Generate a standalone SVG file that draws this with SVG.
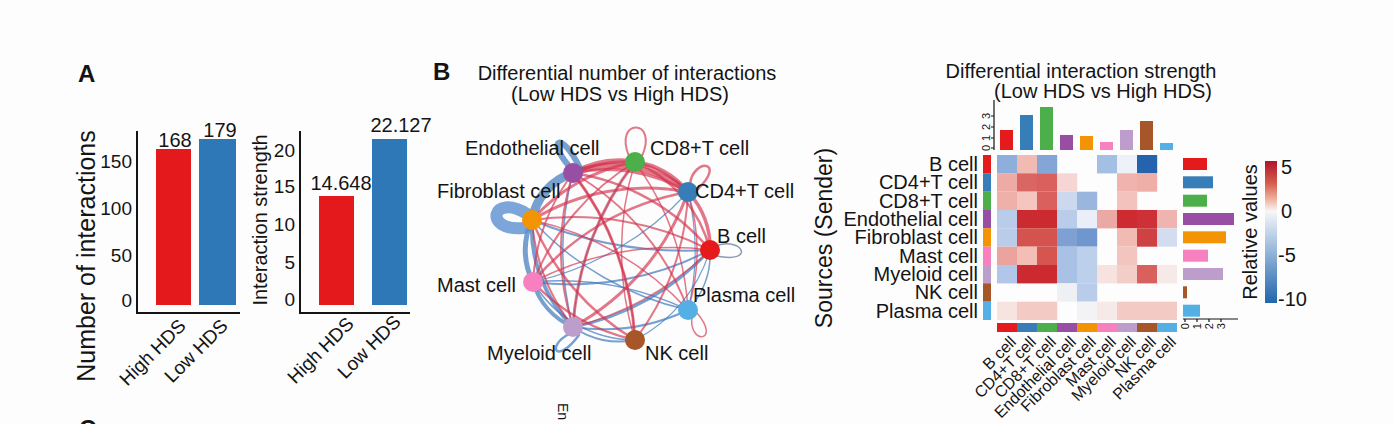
<svg xmlns="http://www.w3.org/2000/svg" width="1394" height="424" viewBox="0 0 1394 424">
<defs>
<style>
text{font-family:"Liberation Sans",Arial,sans-serif;fill:#141414}
.pl{font-weight:bold;font-size:24px}
.t20{font-size:20px}
.t19{font-size:19px}
.ax{stroke:#141414;stroke-width:2;fill:none}
.r{fill:none;stroke:#d3334d;stroke-opacity:.66;stroke-linecap:round}
.b{fill:none;stroke:#3d77bd;stroke-opacity:.7;stroke-linecap:round}
</style>
<linearGradient id="cb" x1="0" y1="0" x2="0" y2="1">
<stop offset="0" stop-color="#ae1529"/>
<stop offset="0.16" stop-color="#d6604d"/>
<stop offset="0.28" stop-color="#f2b9a9"/>
<stop offset="0.353" stop-color="#f7f7f7"/>
<stop offset="0.5" stop-color="#c3d5ea"/>
<stop offset="0.75" stop-color="#6f9ccb"/>
<stop offset="1" stop-color="#2166ac"/>
</linearGradient>
</defs>
<rect width="1394" height="424" fill="#fdfdfd"/>

<!-- Panel A -->
<g id="panelA">
<text class="pl" x="78" y="82">A</text>
<g id="chart-number">
<rect x="156" y="149" width="35" height="156" fill="#e3191c"/>
<rect x="199" y="139" width="37" height="166" fill="#2f78b7"/>
<path class="ax" d="M137 131 V313 H240"/>
<text class="t20" x="175" y="147" text-anchor="middle">168</text>
<text class="t20" x="220" y="137" text-anchor="middle">179</text>
<g class="t19" text-anchor="end">
<text x="132" y="168">150</text>
<text x="132" y="215">100</text>
<text x="132" y="262">50</text>
<text x="132" y="307">0</text>
</g>
<text x="0" y="0" font-size="25" text-anchor="middle" transform="translate(95 256) rotate(-90)">Number of interactions</text>
<text class="t19" text-anchor="end" transform="translate(187 327) rotate(-45)">High HDS</text>
<text class="t19" text-anchor="end" transform="translate(229 327) rotate(-45)">Low HDS</text>
</g>
<g id="chart-strength">
<rect x="319" y="196" width="35" height="109" fill="#e3191c"/>
<rect x="372" y="139" width="35" height="166" fill="#2f78b7"/>
<path class="ax" d="M300 131 V313 H410"/>
<text class="t20" x="341" y="190" text-anchor="middle">14.648</text>
<text class="t20" x="401" y="132" text-anchor="middle">22.127</text>
<g class="t19" text-anchor="end">
<text x="295" y="157">20</text>
<text x="295" y="193">15</text>
<text x="295" y="231">10</text>
<text x="295" y="269">5</text>
<text x="295" y="306">0</text>
</g>
<text x="0" y="0" font-size="20" text-anchor="middle" transform="translate(267 220) rotate(-90)">Interaction strength</text>
<text class="t19" text-anchor="end" transform="translate(355 325) rotate(-45)">High HDS</text>
<text class="t19" text-anchor="end" transform="translate(402 323) rotate(-45)">Low HDS</text>
</g>
<text class="pl" x="79" y="437">C</text>
</g>

<!-- Panel B: network -->
<g id="panelB">
<text class="pl" x="433" y="80">B</text>
<text class="t20" x="627" y="80" text-anchor="middle">Differential number of interactions</text>
<text class="t20" x="620" y="101" text-anchor="middle">(Low HDS vs High HDS)</text>
</g>

<g id="connectors">
<!-- blue -->
<path class="b" stroke-width="9" d="M573 173 A60 60 0 0 0 532 220"/>
<path class="b" stroke-width="5" d="M532 220 A70 70 0 0 0 533 282"/>
<path class="b" stroke-width="4" d="M532 220 A140 140 0 0 0 573 327"/>
<path class="b" stroke-width="4" d="M533 282 A70 70 0 0 0 573 327"/>
<path class="b" stroke-width="3" d="M573 327 A250 250 0 0 0 710 250"/>
<path class="b" stroke-width="2" d="M533 282 A300 300 0 0 0 710 250"/>
<path class="b" stroke-width="2" d="M532 220 A400 400 0 0 0 710 250"/>
<path class="b" stroke-width="2" d="M573 327 A200 200 0 0 0 688 310"/>
<path class="b" stroke-width="2" d="M635 340 A80 80 0 0 1 573 327"/>
<path class="b" stroke-width="1.5" d="M533 282 A300 300 0 0 1 688 310"/>
<path class="b" stroke-width="1.5" d="M710 250 A80 80 0 0 1 688 310"/>
<path class="b" stroke-width="1.2" d="M688 192 A250 250 0 0 1 688 310"/>
<path class="b" stroke-width="1.2" d="M635 340 A150 150 0 0 0 710 250"/>
<path class="b" stroke-width="1.5" d="M532 220 A300 300 0 0 0 688 310"/>
<path class="b" stroke-width="1.5" d="M533 282 A120 120 0 0 0 635 340"/>
<path class="b" stroke-width="1.5" d="M573 173 A300 300 0 0 0 573 327"/>
<path class="b" stroke-width="1.2" d="M635 162 A300 300 0 0 0 573 327"/>
<path class="b" stroke-width="1.2" d="M688 192 A300 300 0 0 1 533 282"/>
<!-- red -->
<path class="r" stroke-width="5" d="M573 173 A95 95 0 0 1 635 162"/>
<path class="r" stroke-width="3" d="M635 162 A130 130 0 0 0 573 173"/>
<path class="r" stroke-width="6" d="M573 173 A120 120 0 0 1 688 192"/>
<path class="r" stroke-width="3" d="M688 192 A160 160 0 0 0 573 173"/>
<path class="r" stroke-width="4" d="M635 162 A80 80 0 0 1 688 192"/>
<path class="r" stroke-width="2.5" d="M688 192 A110 110 0 0 0 635 162"/>
<path class="r" stroke-width="3.5" d="M688 192 A80 80 0 0 1 710 250"/>
<path class="r" stroke-width="2.5" d="M635 162 A130 130 0 0 1 710 250"/>
<path class="r" stroke-width="2.5" d="M573 173 A220 220 0 0 1 710 250"/>
<path class="r" stroke-width="2" d="M573 173 A260 260 0 0 1 688 310"/>
<path class="r" stroke-width="3" d="M573 173 A300 300 0 0 1 635 340"/>
<path class="r" stroke-width="3" d="M532 220 A180 180 0 0 1 635 162"/>
<path class="r" stroke-width="3" d="M532 220 A220 220 0 0 1 688 192"/>
<path class="r" stroke-width="2.5" d="M532 220 A250 250 0 0 0 635 340"/>
<path class="r" stroke-width="1.5" d="M532 220 A300 300 0 0 1 688 310"/>
<path class="r" stroke-width="2.5" d="M533 282 A260 260 0 0 1 688 192"/>
<path class="r" stroke-width="2" d="M533 282 A250 250 0 0 1 635 162"/>
<path class="r" stroke-width="2.5" d="M533 282 A200 200 0 0 0 635 340"/>
<path class="r" stroke-width="3" d="M573 327 A300 300 0 0 1 635 162"/>
<path class="r" stroke-width="3" d="M573 327 A250 250 0 0 0 688 192"/>
<path class="r" stroke-width="2" d="M573 327 A250 250 0 0 1 573 173"/>
<path class="r" stroke-width="2" d="M635 340 A260 260 0 0 0 688 192"/>
<path class="r" stroke-width="1.5" d="M635 340 A300 300 0 0 1 635 162"/>
<path class="r" stroke-width="1.5" d="M688 310 A280 280 0 0 0 635 162"/>
<path class="r" stroke-width="2" d="M533 282 A200 200 0 0 1 573 173"/>
<path class="r" stroke-width="2" d="M573 327 A200 200 0 0 1 532 220"/>
<path class="r" stroke-width="1.5" d="M688 310 A200 200 0 0 0 688 192"/>
<path class="r" stroke-width="2" d="M532 220 A300 300 0 0 1 710 250"/>
<path class="r" stroke-width="1.5" d="M710 250 A300 300 0 0 0 533 282"/>
<path class="r" stroke-width="1.5" d="M573 327 A300 300 0 0 0 710 250"/>
<path class="r" stroke-width="1.5" d="M635 340 A300 300 0 0 0 573 173"/>
<!-- self loops -->
<path class="r" stroke-width="2" d="M629 156 C613 118 659 118 642 156"/>
<path class="r" stroke-width="2.5" d="M690 184 C693 158 728 160 697 190"/>
<path fill="none" stroke="#5d6f96" stroke-opacity=".7" stroke-width="1.5" d="M716 246 C742 236 757 264 716 256"/>
<path class="r" stroke-width="1.5" d="M692 316 C688 346 722 342 697 313"/>
<path class="b" stroke-width="2.5" d="M569 334 C546 346 556 366 579 335"/>
<path fill="none" stroke="#5b8fd0" stroke-opacity=".8" stroke-width="12" stroke-linecap="round" d="M527 214 C492 192 482 232 524 228"/>
<path class="b" stroke-width="6" d="M569 166 C547 141 560 128 580 168"/>
</g>

<g id="node-b"><circle cx="710" cy="250" r="10" fill="#e41a1c"/><text class="t20" x="717" y="243">B cell</text></g>
<g id="node-cd4"><circle cx="688" cy="192" r="10" fill="#377eb8"/><text class="t20" x="695" y="198">CD4+T cell</text></g>
<g id="node-cd8"><circle cx="635" cy="162" r="10" fill="#4daf4a"/><text class="t20" x="650" y="155">CD8+T cell</text></g>
<g id="node-endo"><circle cx="573" cy="173" r="10" fill="#984ea3"/><text class="t20" x="465" y="155">Endothelial cell</text></g>
<g id="node-fibro"><circle cx="532" cy="220" r="10" fill="#f29403"/><text class="t20" x="437" y="198">Fibroblast cell</text></g>
<g id="node-mast"><circle cx="533" cy="282" r="10" fill="#f781bf"/><text class="t20" x="437" y="292">Mast cell</text></g>
<g id="node-myeloid"><circle cx="573" cy="327" r="10" fill="#bc9dcc"/><text class="t20" x="487" y="360">Myeloid cell</text></g>
<g id="node-nk"><circle cx="635" cy="340" r="10" fill="#a65628"/><text class="t20" x="645" y="360">NK cell</text></g>
<g id="node-plasma"><circle cx="688" cy="310" r="10" fill="#54b0e4"/><text class="t20" x="693" y="302">Plasma cell</text></g>

<text font-size="14" transform="translate(558 403) rotate(90)">En</text>

<!-- Heatmap -->
<g id="heatmap">
<text class="t20" x="1081" y="78" text-anchor="middle">Differential interaction strength</text>
<text class="t20" x="1103" y="98" text-anchor="middle">(Low HDS vs High HDS)</text>

<g id="top-bars">
<rect x="1000" y="130" width="13" height="20" fill="#e41a1c"/>
<rect x="1020" y="115" width="13" height="35" fill="#377eb8"/>
<rect x="1040" y="107" width="13" height="43" fill="#4daf4a"/>
<rect x="1060" y="135" width="13" height="15" fill="#984ea3"/>
<rect x="1080" y="136" width="13" height="14" fill="#f29403"/>
<rect x="1100" y="142" width="13" height="8" fill="#f781bf"/>
<rect x="1120" y="130" width="13" height="20" fill="#bc9dcc"/>
<rect x="1140" y="121" width="13" height="29" fill="#a65628"/>
<rect x="1160" y="143" width="13" height="7" fill="#54b0e4"/>
<path d="M994 100 V150 M991 148 H994 M991 138 H994 M991 127 H994 M991 116 H994" stroke="#141414" stroke-width="1.2" fill="none"/>
<g font-size="11" text-anchor="middle">
<text transform="translate(990 148) rotate(-90)">0</text>
<text transform="translate(990 138) rotate(-90)">1</text>
<text transform="translate(990 127) rotate(-90)">2</text>
<text transform="translate(990 116) rotate(-90)">3</text>
</g>
</g>

<g id="row-colors">
<rect x="983" y="155" width="8" height="18.4" fill="#e41a1c"/>
<rect x="983" y="173.3" width="8" height="18.4" fill="#377eb8"/>
<rect x="983" y="191.7" width="8" height="18.4" fill="#4daf4a"/>
<rect x="983" y="210" width="8" height="18.4" fill="#984ea3"/>
<rect x="983" y="228.3" width="8" height="18.4" fill="#f29403"/>
<rect x="983" y="246.7" width="8" height="18.4" fill="#f781bf"/>
<rect x="983" y="265" width="8" height="18.4" fill="#bc9dcc"/>
<rect x="983" y="283.3" width="8" height="18.4" fill="#a65628"/>
<rect x="983" y="301.7" width="8" height="18.3" fill="#54b0e4"/>
</g>

<g id="col-colors">
<rect x="997" y="323" width="20.2" height="9" fill="#e41a1c"/>
<rect x="1017" y="323" width="20.2" height="9" fill="#377eb8"/>
<rect x="1037" y="323" width="20.2" height="9" fill="#4daf4a"/>
<rect x="1057" y="323" width="20.2" height="9" fill="#984ea3"/>
<rect x="1077" y="323" width="20.2" height="9" fill="#f29403"/>
<rect x="1097" y="323" width="20.2" height="9" fill="#f781bf"/>
<rect x="1117" y="323" width="20.2" height="9" fill="#bc9dcc"/>
<rect x="1137" y="323" width="20.2" height="9" fill="#a65628"/>
<rect x="1157" y="323" width="20" height="9" fill="#54b0e4"/>
</g>

<g id="cells">
<rect x="997" y="155" width="20.2" height="18.4" fill="#8eaedb"/>
<rect x="1017" y="155" width="20.2" height="18.4" fill="#f1bab2"/>
<rect x="1037" y="155" width="20.2" height="18.4" fill="#84a6d7"/>
<rect x="1097" y="155" width="20.2" height="18.4" fill="#a3bfe4"/>
<rect x="1117" y="155" width="20.2" height="18.4" fill="#eef2f8"/>
<rect x="1137" y="155" width="20.2" height="18.4" fill="#2563ad"/>
<rect x="997" y="173.3" width="20.2" height="18.4" fill="#eeaaa5"/>
<rect x="1017" y="173.3" width="20.2" height="18.4" fill="#da6663"/>
<rect x="1037" y="173.3" width="20.2" height="18.4" fill="#d9605d"/>
<rect x="1057" y="173.3" width="20.2" height="18.4" fill="#f6d6d5"/>
<rect x="1117" y="173.3" width="20.2" height="18.4" fill="#f0b3ad"/>
<rect x="1137" y="173.3" width="20.2" height="18.4" fill="#efaea8"/>
<rect x="997" y="191.7" width="20.2" height="18.4" fill="#f0b0aa"/>
<rect x="1017" y="191.7" width="20.2" height="18.4" fill="#f4c6bf"/>
<rect x="1037" y="191.7" width="20.2" height="18.4" fill="#d9605d"/>
<rect x="1057" y="191.7" width="20.2" height="18.4" fill="#cbd8ee"/>
<rect x="1077" y="191.7" width="20.2" height="18.4" fill="#9ab5de"/>
<rect x="1117" y="191.7" width="20.2" height="18.4" fill="#f3c2bc"/>
<rect x="997" y="210" width="20.2" height="18.4" fill="#b9cdeb"/>
<rect x="1017" y="210" width="20.2" height="18.4" fill="#cc2a31"/>
<rect x="1037" y="210" width="20.2" height="18.4" fill="#cc2a31"/>
<rect x="1057" y="210" width="20.2" height="18.4" fill="#b9cdeb"/>
<rect x="1077" y="210" width="20.2" height="18.4" fill="#e9eef8"/>
<rect x="1097" y="210" width="20.2" height="18.4" fill="#eba8a4"/>
<rect x="1117" y="210" width="20.2" height="18.4" fill="#cc2b31"/>
<rect x="1137" y="210" width="20.2" height="18.4" fill="#cd3036"/>
<rect x="1157" y="210" width="20" height="18.4" fill="#efb4af"/>
<rect x="997" y="228.3" width="20.2" height="18.4" fill="#b9cdeb"/>
<rect x="1017" y="228.3" width="20.2" height="18.4" fill="#d5534f"/>
<rect x="1037" y="228.3" width="20.2" height="18.4" fill="#d5534f"/>
<rect x="1057" y="228.3" width="20.2" height="18.4" fill="#7ea0d3"/>
<rect x="1077" y="228.3" width="20.2" height="18.4" fill="#7096cf"/>
<rect x="1117" y="228.3" width="20.2" height="18.4" fill="#f1bab2"/>
<rect x="1137" y="228.3" width="20.2" height="18.4" fill="#cf4244"/>
<rect x="1157" y="228.3" width="20" height="18.4" fill="#d4ddef"/>
<rect x="997" y="246.7" width="20.2" height="18.4" fill="#eba39e"/>
<rect x="1017" y="246.7" width="20.2" height="18.4" fill="#f3beb6"/>
<rect x="1037" y="246.7" width="20.2" height="18.4" fill="#d6564f"/>
<rect x="1057" y="246.7" width="20.2" height="18.4" fill="#a9c1e5"/>
<rect x="1077" y="246.7" width="20.2" height="18.4" fill="#bdd0eb"/>
<rect x="1117" y="246.7" width="20.2" height="18.4" fill="#f3c5bf"/>
<rect x="997" y="265" width="20.2" height="18.4" fill="#b1c6e8"/>
<rect x="1017" y="265" width="20.2" height="18.4" fill="#cc2a31"/>
<rect x="1037" y="265" width="20.2" height="18.4" fill="#cc2a31"/>
<rect x="1057" y="265" width="20.2" height="18.4" fill="#a9c1e5"/>
<rect x="1077" y="265" width="20.2" height="18.4" fill="#bdd0eb"/>
<rect x="1097" y="265" width="20.2" height="18.4" fill="#f6e2de"/>
<rect x="1117" y="265" width="20.2" height="18.4" fill="#f3cdc7"/>
<rect x="1137" y="265" width="20.2" height="18.4" fill="#d8605d"/>
<rect x="1157" y="265" width="20" height="18.4" fill="#f6eae8"/>
<rect x="1057" y="283.3" width="20.2" height="18.4" fill="#eef0f4"/>
<rect x="1077" y="283.3" width="20.2" height="18.4" fill="#b9cdeb"/>
<rect x="997" y="301.7" width="20.2" height="18.3" fill="#f7e4e0"/>
<rect x="1017" y="301.7" width="20.2" height="18.3" fill="#f3cbc4"/>
<rect x="1037" y="301.7" width="20.2" height="18.3" fill="#f3cbc4"/>
<rect x="1077" y="301.7" width="20.2" height="18.3" fill="#f3f3f5"/>
<rect x="1097" y="301.7" width="20.2" height="18.3" fill="#f6eae8"/>
<rect x="1117" y="301.7" width="20.2" height="18.3" fill="#f3cbc4"/>
<rect x="1137" y="301.7" width="20.2" height="18.3" fill="#f3cbc4"/>
<rect x="1157" y="301.7" width="20" height="18.3" fill="#f3cbc4"/>
</g>

<g id="right-bars">
<rect x="1183" y="158" width="24" height="12" fill="#e41a1c"/>
<rect x="1183" y="176.3" width="30" height="12" fill="#377eb8"/>
<rect x="1183" y="194.7" width="24" height="12" fill="#4daf4a"/>
<rect x="1183" y="213" width="51" height="12" fill="#984ea3"/>
<rect x="1183" y="231.3" width="43" height="12" fill="#f29403"/>
<rect x="1183" y="249.7" width="25" height="12" fill="#f781bf"/>
<rect x="1183" y="268" width="40" height="12" fill="#bc9dcc"/>
<rect x="1183" y="286.3" width="4" height="12" fill="#a65628"/>
<rect x="1183" y="304.7" width="17" height="12" fill="#54b0e4"/>
<path d="M1183 319 H1238 M1185 319 V322 M1197 319 V322 M1209 319 V322 M1221 319 V322" stroke="#141414" stroke-width="1.2" fill="none"/>
<g font-size="11" text-anchor="end">
<text transform="translate(1189 323) rotate(-90)">0</text>
<text transform="translate(1201 323) rotate(-90)">1</text>
<text transform="translate(1213 323) rotate(-90)">2</text>
<text transform="translate(1225 323) rotate(-90)">3</text>
</g>
</g>

<g id="row-labels" class="t20" text-anchor="end">
<text x="978" y="171">B cell</text>
<text x="978" y="189">CD4+T cell</text>
<text x="978" y="208">CD8+T cell</text>
<text x="978" y="226">Endothelial cell</text>
<text x="978" y="244">Fibroblast cell</text>
<text x="978" y="263">Mast cell</text>
<text x="978" y="281">Myeloid cell</text>
<text x="978" y="299">NK cell</text>
<text x="978" y="318">Plasma cell</text>
</g>
<text font-size="23" text-anchor="middle" transform="translate(832 238) rotate(-90)">Sources (Sender)</text>

<g id="col-labels" font-size="16" text-anchor="end">
<text transform="translate(1017 343) rotate(-45)">B cell</text>
<text transform="translate(1037 343) rotate(-45)">CD4+T cell</text>
<text transform="translate(1057 343) rotate(-45)">CD8+T cell</text>
<text transform="translate(1077 343) rotate(-45)">Endothelial cell</text>
<text transform="translate(1097 343) rotate(-45)">Fibroblast cell</text>
<text transform="translate(1117 343) rotate(-45)">Mast cell</text>
<text transform="translate(1137 343) rotate(-45)">Myeloid cell</text>
<text transform="translate(1157 343) rotate(-45)">NK cell</text>
<text transform="translate(1177 343) rotate(-45)">Plasma cell</text>
</g>

<g id="legend">
<rect x="1265" y="161" width="12" height="142" fill="url(#cb)"/>
<text class="t20" x="1281" y="174">5</text>
<text class="t20" x="1281" y="218">0</text>
<text class="t20" x="1278" y="262">-5</text>
<text class="t20" x="1278" y="306">-10</text>
<text font-size="20" text-anchor="middle" transform="translate(1257 232) rotate(-90)">Relative values</text>
</g>
</g>
</svg>
